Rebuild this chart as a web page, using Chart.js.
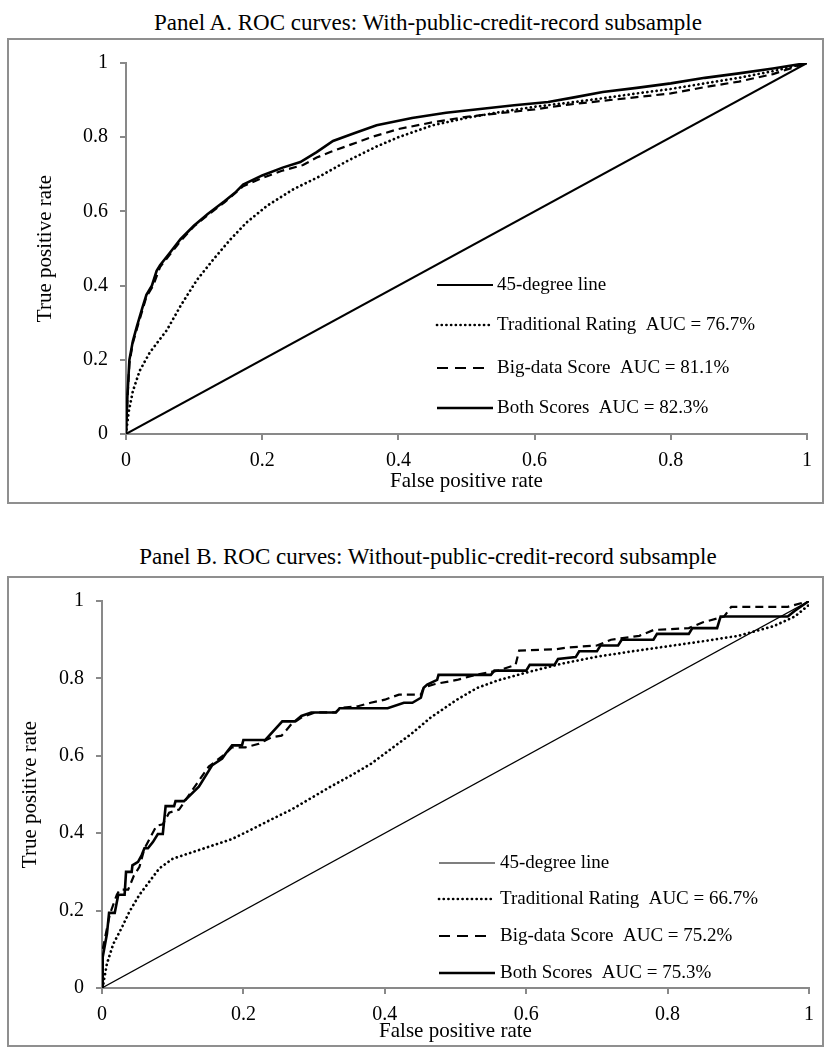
<!DOCTYPE html>
<html>
<head>
<meta charset="utf-8">
<script src="https://cdn.jsdelivr.net/npm/chart.js@4.4.1/dist/chart.umd.min.js"></script>
<style>
  body { margin: 0; background: #fff; width: 831px; height: 1048px; position: relative; overflow: hidden;
         font-family: "Liberation Serif", "Times New Roman", serif; }
  .title { position: absolute; left: 0; width: 856px; text-align: center; font-size: 23px; line-height: 23px; color: #000; }
  .box { position: absolute; left: 7px; width: 817px; border: 2px solid #8f8f8f; box-sizing: border-box; }
  canvas { position: absolute; left: 8px; }
</style>
</head>
<body>
<div class="title" style="top:11px">Panel A. ROC curves: With-public-credit-record subsample</div>
<div class="box" style="top:38px;height:466px"></div>
<canvas id="panelA" width="815" height="464" style="top:39px"></canvas>

<div class="title" style="top:545px">Panel B. ROC curves: Without-public-credit-record subsample</div>
<div class="box" style="top:576px;height:471px"></div>
<canvas id="panelB" width="815" height="468" style="top:577px"></canvas>

<script>
// axis ticks
const tickLabels = ['0', '0.2', '0.4', '0.6', '0.8', '1'];

// legend text
const seriesNames = ['45-degree line', 'Traditional Rating', 'Big-data Score', 'Both Scores'];
const aucA = ['76.7%', '81.1%', '82.3%'];
const aucB = ['66.7%', '75.2%', '75.3%'];

// [false positive rate, true positive rate]
const diagonal = [[0, 0], [1, 1]];

const tradA = [[0,0],[0.004,0.06],[0.01,0.115],[0.02,0.17],[0.035,0.22],[0.06,0.28],[0.08,0.345],[0.104,0.415],
  [0.128,0.47],[0.153,0.524],[0.177,0.57],[0.207,0.615],[0.246,0.66],[0.285,0.695],[0.324,0.735],[0.368,0.775],
  [0.4,0.8],[0.45,0.832],[0.5,0.852],[0.55,0.868],[0.6,0.882],[0.65,0.893],[0.7,0.905],[0.75,0.918],[0.8,0.93],
  [0.85,0.945],[0.9,0.96],[0.95,0.978],[1,1]];

const bigDataA = [[0,0],[0.002,0.09],[0.005,0.19],[0.01,0.245],[0.017,0.29],[0.03,0.37],[0.04,0.4],[0.05,0.45],
  [0.065,0.485],[0.08,0.52],[0.1,0.56],[0.12,0.59],[0.145,0.625],[0.172,0.668],[0.2,0.69],[0.23,0.71],[0.26,0.725],
  [0.28,0.745],[0.3,0.76],[0.33,0.78],[0.36,0.8],[0.4,0.822],[0.45,0.84],[0.5,0.855],[0.55,0.865],[0.6,0.875],
  [0.65,0.888],[0.7,0.898],[0.75,0.908],[0.8,0.918],[0.85,0.935],[0.9,0.95],[0.95,0.97],[1,1]];

const bothA = [[0,0],[0.002,0.1],[0.005,0.2],[0.01,0.25],[0.016,0.29],[0.024,0.34],[0.03,0.375],[0.038,0.4],
  [0.045,0.44],[0.05,0.455],[0.065,0.49],[0.08,0.525],[0.1,0.562],[0.12,0.593],[0.145,0.628],[0.16,0.65],
  [0.172,0.672],[0.2,0.697],[0.23,0.718],[0.256,0.733],[0.28,0.76],[0.304,0.79],[0.334,0.81],[0.368,0.832],
  [0.42,0.852],[0.47,0.866],[0.52,0.876],[0.57,0.886],[0.62,0.895],[0.66,0.908],[0.7,0.922],[0.75,0.933],
  [0.8,0.945],[0.85,0.96],[0.9,0.972],[0.95,0.985],[1,1]];

const tradB = [[0,0],[0.002,0.012],[0.007,0.063],[0.016,0.114],[0.028,0.156],[0.039,0.198],[0.053,0.241],
  [0.067,0.275],[0.081,0.309],[0.1,0.334],[0.128,0.351],[0.156,0.368],[0.184,0.385],[0.212,0.41],[0.24,0.436],
  [0.268,0.461],[0.296,0.491],[0.324,0.521],[0.353,0.55],[0.381,0.58],[0.409,0.618],[0.437,0.656],[0.465,0.699],
  [0.502,0.745],[0.53,0.775],[0.56,0.795],[0.6,0.815],[0.65,0.838],[0.7,0.856],[0.75,0.87],[0.8,0.883],
  [0.85,0.896],[0.9,0.91],[0.95,0.935],[0.98,0.96],[1,0.99]];

const bigDataB = [[0,0],[0.001,0.1],[0.011,0.19],[0.021,0.241],[0.025,0.254],[0.037,0.254],[0.045,0.29],
  [0.053,0.313],[0.06,0.36],[0.077,0.419],[0.086,0.423],[0.095,0.453],[0.109,0.461],[0.128,0.512],[0.151,0.572],
  [0.175,0.606],[0.184,0.622],[0.203,0.622],[0.222,0.631],[0.24,0.648],[0.254,0.652],[0.268,0.682],[0.282,0.699],
  [0.301,0.712],[0.33,0.712],[0.338,0.724],[0.362,0.728],[0.38,0.737],[0.4,0.745],[0.42,0.758],[0.451,0.758],
  [0.455,0.776],[0.47,0.785],[0.502,0.796],[0.53,0.81],[0.56,0.82],[0.585,0.835],[0.59,0.872],[0.64,0.875],
  [0.66,0.88],[0.7,0.885],[0.72,0.9],[0.76,0.91],[0.78,0.925],[0.83,0.93],[0.85,0.945],[0.88,0.96],
  [0.89,0.985],[0.97,0.985],[1,1]];

const bothB = [[0,0],[0.001,0.08],[0.007,0.14],[0.01,0.194],[0.018,0.194],[0.023,0.241],[0.032,0.241],
  [0.034,0.3],[0.042,0.3],[0.043,0.317],[0.051,0.326],[0.056,0.343],[0.06,0.361],[0.065,0.361],[0.072,0.377],
  [0.079,0.398],[0.086,0.398],[0.09,0.47],[0.102,0.47],[0.104,0.483],[0.116,0.483],[0.137,0.52],[0.156,0.576],
  [0.17,0.593],[0.175,0.606],[0.184,0.627],[0.198,0.627],[0.2,0.641],[0.231,0.641],[0.243,0.665],[0.255,0.689],
  [0.273,0.689],[0.282,0.703],[0.296,0.712],[0.331,0.712],[0.336,0.723],[0.404,0.723],[0.427,0.737],[0.439,0.737],
  [0.451,0.75],[0.455,0.776],[0.46,0.784],[0.474,0.796],[0.476,0.809],[0.55,0.809],[0.555,0.82],[0.6,0.82],
  [0.605,0.835],[0.64,0.835],[0.645,0.85],[0.67,0.855],[0.675,0.87],[0.7,0.87],[0.705,0.885],[0.73,0.885],
  [0.735,0.9],[0.78,0.9],[0.785,0.915],[0.83,0.915],[0.835,0.93],[0.87,0.93],[0.875,0.96],[0.97,0.96],
  [0.98,0.975],[1,1]];

const FONT = '"Liberation Serif", "Times New Roman", serif';
const AXIS = '#898989';

// draws the line samples + labels inside the plot, like the excel legend
const rocLegend = {
  id: 'rocLegend',
  afterDatasetsDraw(chart, args, opts) {
    const ctx = chart.ctx;
    ctx.save();
    chart.data.datasets.forEach((ds, i) => {
      const y = opts.rows[i];
      ctx.beginPath();
      ctx.strokeStyle = '#000';
      ctx.lineWidth = ds.borderWidth;
      ctx.lineCap = ds.borderCapStyle || 'butt';
      ctx.setLineDash(opts.dashes[i]);
      ctx.moveTo(opts.x1, y);
      ctx.lineTo(opts.x1 + opts.lens[i], y);
      ctx.stroke();
      ctx.setLineDash([]);
      ctx.font = '19px ' + FONT;
      ctx.fillStyle = '#000';
      ctx.textBaseline = 'middle';
      ctx.fillText(ds.label, opts.textX, y);
    });
    ctx.restore();
  }
};

function rocChart(id, curves, aucs, lay) {
  const styles = [
    { borderWidth: lay.diagWidth, borderDash: [] },
    { borderWidth: 2.7, borderDash: [0.1, 4.6], borderCapStyle: 'round' },
    { borderWidth: 2.2, borderDash: [8, 5] },
    { borderWidth: 2.6, borderDash: [] }
  ];
  const datasets = curves.map((pts, i) => Object.assign({
    label: i === 0 ? seriesNames[0] : seriesNames[i] + '  AUC = ' + aucs[i - 1],
    data: pts.map(p => ({ x: p[0], y: p[1] })),
    borderColor: '#000',
    showLine: true,
    pointRadius: 0,
    fill: false,
    tension: 0
  }, styles[i]));

  return new Chart(document.getElementById(id), {
    type: 'scatter',
    data: { datasets },
    plugins: [rocLegend],
    options: {
      responsive: false,
      animation: false,
      layout: { padding: { top: lay.padTop, right: lay.padRight, left: 0, bottom: 0 } },
      plugins: {
        legend: { display: false },
        tooltip: { enabled: false },
        rocLegend: {
          x1: lay.legX1, textX: lay.legText, rows: lay.legRows,
          lens: [56, 56, 47, 56],
          dashes: [[], [0.1, 4.6], [11, 7], []]
        }
      },
      scales: {
        x: {
          type: 'linear', min: 0, max: 1, position: 'bottom',
          afterFit: s => { s.height = lay.xHeight; },
          ticks: { stepSize: 0.2, autoSkip: false, maxRotation: 0, padding: 9, color: '#000',
                   font: { family: FONT, size: 20 }, callback: (v, i) => tickLabels[i] },
          grid: { drawOnChartArea: false, drawTicks: true, tickLength: 6, color: AXIS, lineWidth: 2 },
          border: { color: AXIS, width: 2 },
          title: { display: true, text: 'False positive rate', color: '#000',
                   font: { family: FONT, size: 21 }, padding: { top: 0, bottom: lay.xTitlePad } }
        },
        y: {
          type: 'linear', min: 0, max: 1,
          afterFit: s => { s.width = lay.yWidth; },
          ticks: { stepSize: 0.2, padding: 12, color: '#000',
                   font: { family: FONT, size: 20 }, callback: (v, i) => tickLabels[i] },
          grid: { drawOnChartArea: false, drawTicks: true, tickLength: 6, color: AXIS, lineWidth: 2 },
          border: { color: AXIS, width: 2 },
          title: { display: true, text: 'True positive rate', color: '#000',
                   font: { family: FONT, size: 21 }, padding: { top: lay.yTitlePad, bottom: 0 } }
        }
      }
    }
  });
}

rocChart('panelA', [diagonal, tradA, bigDataA, bothA], aucA, {
  diagWidth: 2, padTop: 20, padRight: 16, xHeight: 69, yWidth: 118, xTitlePad: 9.4, yTitlePad: 24.4,
  legX1: 429, legText: 489, legRows: [246, 286, 329, 369]
});

rocChart('panelB', [diagonal, tradB, bigDataB, bothB], aucB, {
  diagWidth: 1.2, padTop: 18, padRight: 8, xHeight: 57, yWidth: 94, xTitlePad: 1.4, yTitlePad: 9.4,
  legX1: 431, legText: 492, legRows: [286, 322, 359, 396]
});
</script>
</body>
</html>
